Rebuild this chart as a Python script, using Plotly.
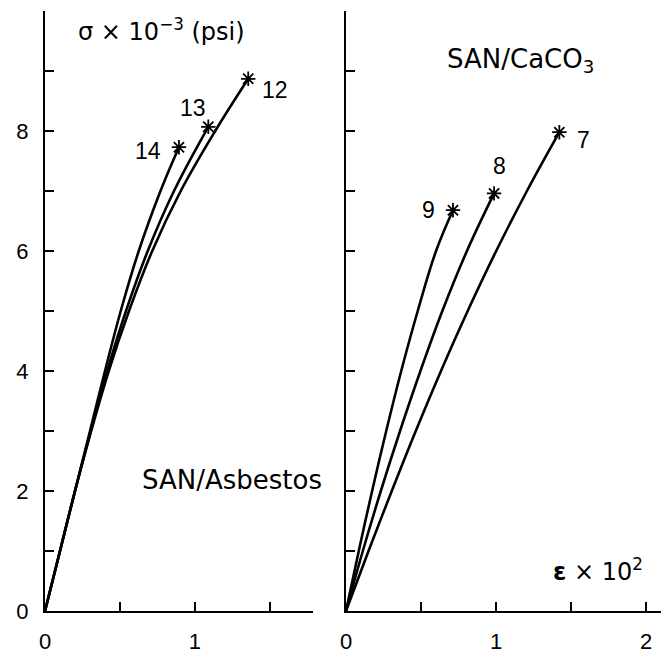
import plotly.graph_objects as go

# SAN/Asbestos (left panel): strain x 10^2, stress x 10^-3 psi
asb12_x = [0, 0.1, 0.2, 0.308, 0.425, 0.56, 0.715, 0.905, 1.135, 1.355]
asb12_y = [0, 1, 2, 3, 4, 5, 6, 7, 8, 8.87]
asb13_x = [0, 0.1, 0.2, 0.305, 0.415, 0.54, 0.685, 0.86, 1.089]
asb13_y = [0, 1, 2, 3, 4, 5, 6, 7, 8.07]
asb14_x = [0, 0.1, 0.2, 0.3, 0.4, 0.505, 0.625, 0.77, 0.893]
asb14_y = [0, 1, 2, 3, 4, 5, 6, 7, 7.73]

# SAN/CaCO3 (right panel)
cac7_x = [0, 0.15, 0.305, 0.465, 0.633, 0.811, 1.001, 1.206, 1.422]
cac7_y = [0, 1, 2, 3, 4, 5, 6, 7, 7.98]
cac8_x = [0, 0.112, 0.232, 0.36, 0.496, 0.642, 0.806, 0.987]
cac8_y = [0, 1, 2, 3, 4, 5, 6, 6.96]
cac9_x = [0, 0.085, 0.174, 0.268, 0.368, 0.478, 0.6, 0.713]
cac9_y = [0, 1, 2, 3, 4, 5, 6, 6.68]

left_xlabel_vals = [0, 1]
left_xminor_vals = [0.5, 1.5]
right_xlabel_vals = [0, 1, 2]
right_xminor_vals = [0.5, 1.5]
ylabel_vals = [0, 2, 4, 6, 8, 10]
yminor_vals = [1, 3, 5, 7, 9]

fig = go.Figure()

def curve(xs, ys, xa, ya):
    fig.add_trace(go.Scatter(
        x=xs, y=ys, xaxis=xa, yaxis=ya, mode="lines",
        line=dict(color="black", width=2.6, shape="spline", smoothing=1.1),
        cliponaxis=False, showlegend=False, hoverinfo="skip"))
    fig.add_trace(go.Scatter(
        x=[xs[-1]], y=[ys[-1]], xaxis=xa, yaxis=ya, mode="markers",
        marker=dict(symbol="asterisk-open", size=12, color="black",
                    line=dict(color="black", width=1.8)),
        cliponaxis=False, showlegend=False, hoverinfo="skip"))

for xs, ys in [(asb12_x, asb12_y), (asb13_x, asb13_y), (asb14_x, asb14_y)]:
    curve(xs, ys, "x", "y")
for xs, ys in [(cac7_x, cac7_y), (cac8_x, cac8_y), (cac9_x, cac9_y)]:
    curve(xs, ys, "x2", "y2")

def axis(vals, minor_vals, **kw):
    d = dict(showgrid=False, zeroline=False, showline=True, linecolor="black",
             linewidth=2, ticks="inside", ticklen=9, tickwidth=1.5, tickcolor="black",
             tickfont=dict(family="Liberation Sans", size=22, color="black"),
             ticklabelstandoff=10, fixedrange=True,
             tickmode="array", tickvals=vals, ticktext=[str(v) for v in vals],
             minor=dict(tickmode="array", tickvals=minor_vals, ticks="inside",
                        ticklen=9, tickwidth=1.5, tickcolor="black", showgrid=False))
    d.update(kw)
    return d

# the page body has an 8px margin, so the figure is sized to fit the window
fig.update_layout(
    width=661, height=652,
    margin=dict(l=37, r=0, t=3, b=49),
    paper_bgcolor="white", plot_bgcolor="white",
    xaxis=axis(left_xlabel_vals, left_xminor_vals, domain=[0, 0.4295], range=[0, 1.787], anchor="y"),
    yaxis=axis(ylabel_vals, yminor_vals, domain=[0, 1], range=[0, 10], anchor="x"),
    xaxis2=axis(right_xlabel_vals, right_xminor_vals, domain=[0.4824, 1], range=[0, 2.153], anchor="y2"),
    yaxis2=axis(ylabel_vals, yminor_vals, domain=[0, 1], range=[0, 10], anchor="x2",
                showticklabels=False),
)

num_font = dict(family="Liberation Sans", size=23, color="black")
txt_font = dict(family="DejaVu Sans", size=24, color="black")
big_font = dict(family="DejaVu Sans", size=26, color="black")

ann = [
    ("x", "y", 1.533, 8.68, "12", num_font),
    ("x", "y", 0.987, 8.38, "13", num_font),
    ("x", "y", 0.687, 7.67, "14", num_font),
    ("x2", "y2", 0.547, 6.68, "9", num_font),
    ("x2", "y2", 1.02, 7.42, "8", num_font),
    ("x2", "y2", 1.58, 7.85, "7", num_font),
    ("x", "y", 0.78, 9.68, "σ × 10<sup>−3</sup> (psi)", txt_font),
    ("x2", "y2", 1.16, 9.18, "SAN/CaCO<sub>3</sub>", big_font),
    ("x", "y", 1.25, 2.18, "SAN/Asbestos", big_font),
    ("x2", "y2", 1.68, 0.68, "<b>ε</b> × 10<sup>2</sup>", txt_font),
]
for xr, yr, x, y, t, f in ann:
    fig.add_annotation(xref=xr, yref=yr, x=x, y=y, text=t, showarrow=False, font=f)

fig.write_html("out.html")
